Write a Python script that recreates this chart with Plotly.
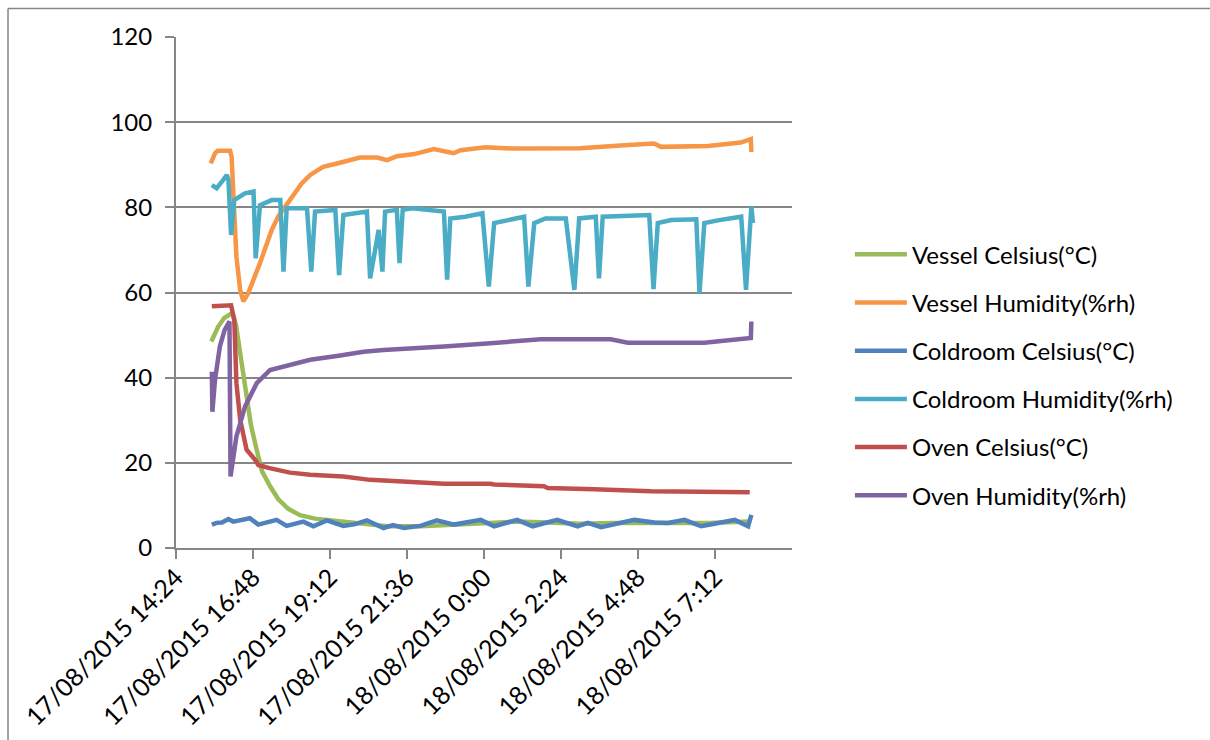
import datetime as dt
import plotly.graph_objects as go

# Logger readings, 17/08/2015 afternoon to 18/08/2015 morning (HH:MM)
vessel_celsius_t = ["15:30", "15:43", "15:54", "16:04", "16:09", "16:16", "16:24", "16:35", "16:44",
                    "16:54", "17:05", "17:20", "17:35", "17:54", "18:16", "18:44", "19:24", "20:03",
                    "20:59", "22:01", "23:03", "00:07", "01:00", "02:00", "03:00", "04:00", "05:00",
                    "06:00", "07:00", "08:16"]
vessel_celsius = [48.5, 52.0, 54.0, 55.0, 55.2, 52.5, 45.5, 36.5, 29.0,
                  23.5, 18.0, 14.5, 11.5, 9.2, 7.7, 6.9, 6.4, 5.9,
                  5.1, 5.1, 5.5, 5.9, 6.2, 6.0, 5.7, 5.9, 5.8,
                  5.9, 5.9, 6.2]

vessel_humidity_t = ["15:29", "15:33", "15:37", "15:42", "16:05", "16:08", "16:13", "16:17", "16:24",
                     "16:30", "16:39", "16:52", "17:01", "17:23", "17:35", "17:48", "18:07", "18:19",
                     "18:35", "18:59", "19:25", "19:45", "20:08", "20:40", "20:59", "21:17", "21:50",
                     "22:26", "23:03", "23:16", "00:03", "00:54", "02:00", "03:00", "04:22", "05:18",
                     "05:31", "06:59", "08:00", "08:19", "08:20"]
vessel_humidity = [90.3, 91.8, 92.7, 93.3, 93.3, 91.9, 80.1, 68.4, 60.6,
                   57.9, 59.8, 63.7, 66.9, 74.7, 77.8, 80.1, 83.3, 85.6,
                   87.6, 89.5, 90.3, 91.0, 91.7, 91.7, 91.1, 92.0, 92.5,
                   93.7, 92.7, 93.4, 94.1, 93.8, 93.9, 93.9, 94.6, 95.0,
                   94.2, 94.4, 95.2, 96.0, 93.0]

coldroom_celsius_t = ["15:31", "15:40", "15:50", "16:02", "16:11", "16:25", "16:42", "16:58", "17:14",
                      "17:32", "17:51", "18:07", "18:22", "18:41", "19:06", "19:37", "19:59", "20:21",
                      "20:52", "21:10", "21:30", "22:01", "22:32", "23:04", "23:54", "00:19", "00:41",
                      "01:02", "01:31", "01:55", "02:17", "02:55", "03:14", "03:39", "04:10", "04:41",
                      "05:19", "05:44", "06:15", "06:46", "07:11", "07:49", "08:14", "08:20"]
coldroom_celsius = [5.5, 5.9, 6.0, 6.8, 6.2, 6.6, 7.0, 5.5, 6.0,
                    6.6, 5.2, 5.8, 6.2, 5.1, 6.5, 5.2, 5.6, 6.5,
                    4.7, 5.4, 4.7, 5.2, 6.5, 5.5, 6.6, 5.1, 5.9,
                    6.6, 5.1, 5.8, 6.6, 5.1, 5.9, 4.9, 5.8, 6.6,
                    6.0, 5.9, 6.6, 5.1, 5.7, 6.6, 5.1, 7.8]

coldroom_humidity_t = ["15:31", "15:40", "15:52", "15:59", "16:02", "16:07", "16:13", "16:33", "16:49",
                       "16:53", "17:01", "17:23", "17:39", "17:45", "17:51", "18:29", "18:37", "18:44",
                       "19:22", "19:29", "19:37", "20:21", "20:27", "20:43", "20:50", "20:55", "21:17",
                       "21:22", "21:28", "21:46", "22:45", "22:51", "22:57", "23:25", "23:57", "00:09",
                       "00:19", "00:47", "01:15", "01:23", "01:34", "01:55", "02:33", "02:49", "02:58",
                       "03:29", "03:35", "03:42", "05:09", "05:17", "05:25", "05:50", "06:37", "06:43",
                       "06:52", "07:20", "08:01", "08:10", "08:20", "08:23"]
coldroom_humidity = [85.2, 84.5, 86.4, 87.6, 86.5, 73.5, 81.7, 83.3, 83.7,
                     68.0, 80.5, 81.7, 81.7, 64.9, 79.8, 79.8, 64.9, 79.0,
                     79.4, 64.1, 78.2, 79.0, 63.3, 74.7, 64.9, 79.0, 79.4,
                     66.9, 79.4, 79.8, 79.0, 63.0, 77.4, 77.8, 78.6, 61.4,
                     76.3, 77.0, 77.8, 61.4, 76.3, 77.4, 77.4, 60.6, 77.4,
                     77.8, 63.3, 77.8, 78.2, 60.8, 76.3, 77.0, 77.2, 59.8,
                     76.3, 77.0, 77.8, 60.6, 80.2, 76.3]

oven_celsius_t = ["15:31", "16:02", "16:07", "16:13", "16:17", "16:24", "16:30", "16:36", "16:52",
                  "16:58", "17:17", "17:57", "18:35", "19:37", "20:27", "21:42", "22:45", "00:12",
                  "00:19", "01:52", "01:59", "03:26", "05:12", "08:17"]
oven_celsius = [56.8, 57.1, 57.0, 53.6, 38.7, 30.1, 26.0, 23.1, 20.7,
                19.5, 18.8, 17.7, 17.2, 16.8, 16.0, 15.6, 15.1, 15.1,
                14.9, 14.5, 14.1, 13.8, 13.3, 13.1]

oven_humidity_t = ["15:31", "15:32", "15:37", "15:46", "15:55", "16:04", "16:06", "16:17", "16:33",
                   "16:55", "17:20", "17:57", "18:35", "19:25", "20:15", "20:52", "22:01", "22:45",
                   "00:12", "01:09", "01:46", "03:57", "04:29", "06:52", "07:17", "07:49", "08:19",
                   "08:20"]
oven_humidity = [41.4, 32.0, 39.5, 47.3, 51.2, 53.2, 16.8, 26.2, 33.2,
                 38.7, 41.8, 43.0, 44.2, 45.1, 46.1, 46.5, 46.9, 47.3,
                 48.1, 48.5, 49.0, 49.0, 48.2, 48.2, 48.5, 49.0, 49.3,
                 53.2]

series_names = ["Vessel Celsius(°C)", "Vessel Humidity(%rh)", "Coldroom Celsius(°C)",
                "Coldroom Humidity(%rh)", "Oven Celsius(°C)", "Oven Humidity(%rh)"]
series_colors = ["#9BBB59", "#F79646", "#4F81BD", "#4BACC6", "#C0504D", "#8064A2"]
series_data = [(vessel_celsius_t, vessel_celsius), (vessel_humidity_t, vessel_humidity),
               (coldroom_celsius_t, coldroom_celsius), (coldroom_humidity_t, coldroom_humidity),
               (oven_celsius_t, oven_celsius), (oven_humidity_t, oven_humidity)]

# Axis ticks every 2h24m
tick_times = ["2015-08-17 14:24", "2015-08-17 16:48", "2015-08-17 19:12", "2015-08-17 21:36",
              "2015-08-18 00:00", "2015-08-18 02:24", "2015-08-18 04:48", "2015-08-18 07:12"]
tick_labels = ["17/08/2015 14:24", "17/08/2015 16:48", "17/08/2015 19:12", "17/08/2015 21:36",
               "18/08/2015 0:00", "18/08/2015 2:24", "18/08/2015 4:48", "18/08/2015 7:12"]
x_range = ["2015-08-17 14:24", "2015-08-18 09:36"]


def to_datetime(hhmm):
    """Readings before noon belong to the second day of the run."""
    h, m = (int(p) for p in hhmm.split(":"))
    day = 18 if h < 12 else 17
    return dt.datetime(2015, 8, day, h, m)


FONT = "Lato"
GRID = "#868686"

fig = go.Figure()
for i, (name, color, (times, values)) in enumerate(zip(series_names, series_colors, series_data)):
    fig.add_trace(go.Scatter(
        x=[to_datetime(t) for t in times], y=values, name=name, mode="lines",
        line=dict(color=color, width=4.5), legendgroup=f"g{i}",
    ))

# Chart frame: only its top and left edges fall inside the page
frame = dict(color=GRID, width=1.5)
fig.update_layout(
    width=1210, height=740,
    margin=dict(l=176, r=418, t=36.5, b=191.7, autoexpand=False),
    paper_bgcolor="white", plot_bgcolor="white",
    font=dict(family=FONT, size=24, color="black"),
    showlegend=True,
    legend=dict(x=1.094, y=0.618, xanchor="left", yanchor="top", tracegroupgap=14,
                itemwidth=52, font=dict(family=FONT, size=24, color="black"),
                bgcolor="rgba(0,0,0,0)"),
    shapes=[
        dict(type="line", xref="paper", yref="paper", x0=-0.2727, y0=1.0557, x1=1.9, y1=1.0557,
             line=frame, layer="below"),
        dict(type="line", xref="paper", yref="paper", x0=-0.2727, y0=1.0557, x1=-0.2727, y1=-0.5,
             line=frame, layer="below"),
    ],
)
fig.update_xaxes(
    type="date", range=x_range, tickvals=tick_times, ticktext=tick_labels, tickangle=-45,
    showgrid=False, showline=True, linecolor=GRID, linewidth=2, automargin=False,
    ticks="outside", ticklen=9, tickwidth=2, tickcolor=GRID, ticklabelstandoff=-6,
    tickfont=dict(family=FONT, size=25, color="black"), zeroline=False,
)
fig.update_yaxes(
    range=[0, 120], tick0=0, dtick=20, showgrid=True, gridcolor=GRID, gridwidth=2,
    showline=True, linecolor=GRID, linewidth=2, ticks="outside", ticklen=9, tickwidth=2,
    tickcolor=GRID, ticklabelstandoff=8, zeroline=False, automargin=False,
    tickfont=dict(family=FONT, size=24, color="black"),
)

fig.write_html("out.html")
